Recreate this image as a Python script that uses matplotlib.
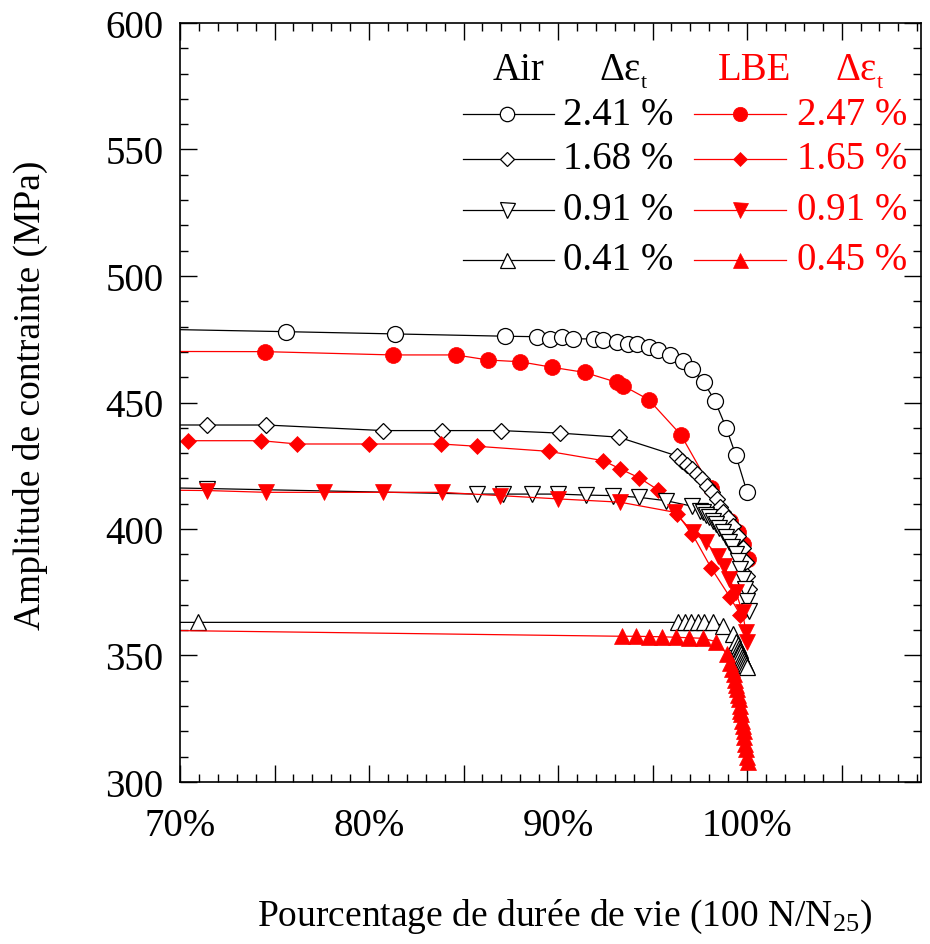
import matplotlib
matplotlib.use('Agg')
import matplotlib.pyplot as plt
from matplotlib.ticker import MultipleLocator, FuncFormatter

# Air 2.41 %
air241_x = [60, 75.6, 81.4, 87.2, 88.9, 89.6, 90.2, 90.8, 91.9, 92.4, 93.1, 93.7, 94.2, 94.8,
            95.3, 95.9, 96.6, 97.1, 97.7, 98.3, 98.9, 99.4, 100.0]
air241_y = [480.2, 478.0, 477.1, 476.2, 476.0, 475.0, 476.0, 475.2, 475.1, 474.7, 473.9, 473.1, 473.1, 471.9,
            470.8, 468.8, 466.4, 463.2, 458.1, 450.6, 439.9, 429.2, 414.6]
# LBE 2.47 %
lbe247_x = [60, 74.5, 81.25, 84.6, 86.3, 88.0, 89.7, 91.4, 93.1, 93.45, 94.8, 96.5, 98.1,
            99.1, 99.5, 99.8, 100.05]
lbe247_y = [470.3, 470.1, 468.8, 468.8, 466.8, 466.1, 463.9, 461.9, 458.0, 456.6, 451.1, 437.2, 416.1,
            403.3, 398.7, 394.1, 388.1]
# Air 1.68 %
air168_x = [60, 71.45, 74.55, 80.76, 83.84, 86.97, 90.1, 93.2, 96.28, 96.56, 96.83, 97.09, 97.35,
            97.62, 97.88, 98.15, 98.40, 98.57, 98.75, 99.01, 99.28, 99.54, 99.80, 99.95, 100.02, 100.1]
air168_y = [441.2, 441.1, 441.1, 438.9, 438.9, 438.9, 437.9, 436.3, 428.9, 426.9, 425.3, 423.7, 421.7,
            419.8, 417.0, 414.6, 411.9, 408.7, 406.7, 404.3, 401.2, 397.2, 392.5, 387.0, 381.4, 376.3]
# LBE 1.65 %
lbe165_x = [70.4, 74.3, 76.2, 80.0, 83.8, 85.7, 89.5, 92.4, 93.3, 94.3, 95.3, 96.3, 97.1, 98.1,
            99.1, 99.65]
lbe165_y = [434.9, 434.9, 433.6, 433.6, 433.6, 432.7, 430.7, 427.0, 423.7, 420.2, 415.4, 405.9, 398.0, 384.6,
            373.0, 366.0]
# Air 0.91 %
air091_x = [60, 71.45, 85.7, 87.1, 88.6, 90.0, 91.5, 92.9, 94.3, 95.7, 97.1, 97.5, 97.65, 97.8, 98.0,
            98.2, 98.35, 98.5, 98.7, 98.9, 99.05, 99.2, 99.4, 99.5, 99.65, 99.8, 99.9, 100.0, 100.1]
air091_y = [417.5, 416.0, 413.8, 413.8, 413.8, 413.8, 413.4, 413.2, 412.5, 411.2, 409.0, 407.2, 406.6, 405.5, 404.6,
            403.3, 402.0, 400.3, 398.7, 396.7, 394.7, 392.8, 390.1, 387.5, 384.2, 380.2, 376.3, 371.7, 367.7]
# LBE 0.91 %
lbe091_x = [60, 71.45, 74.55, 77.63, 80.76, 83.84, 86.93, 90.0, 93.28, 96.19, 97.13, 97.83, 98.45,
            98.8, 99.06, 99.41, 99.76, 99.94, 100.0]
lbe091_y = [416.0, 415.2, 414.5, 414.5, 414.5, 414.5, 413.2, 411.9, 410.6, 406.6, 398.7, 394.7, 389.4,
            385.5, 380.2, 375.0, 367.1, 359.2, 355.2]
# Air 0.41 %
air041_x = [60, 70.93, 96.33, 96.69, 97.04, 97.39, 97.74, 98.18, 98.71, 99.24, 99.41, 99.5, 99.55, 99.6,
            99.65, 99.7, 99.75, 99.8, 99.85, 99.9, 99.95, 100.0]
air041_y = [363.1, 363.1, 363.1, 363.1, 363.1, 363.1, 363.1, 363.1, 361.8, 358.5, 355.2, 354.0, 353.0, 352.0,
            351.3, 350.5, 349.5, 348.6, 347.8, 347.0, 346.3, 345.3]
# LBE 0.45 %
lbe045_x = [60, 93.4, 94.1, 94.8, 95.5, 96.25, 96.95, 97.65, 98.35, 98.95, 99.1, 99.2, 99.3, 99.35,
            99.4, 99.45, 99.5, 99.55, 99.6, 99.65, 99.7, 99.75, 99.78, 99.82, 99.85, 99.9, 99.94, 99.98, 100.03]
lbe045_y = [360.8, 357.6, 357.6, 357.5, 357.4, 357.2, 357.0, 356.8, 355.5, 350.5, 347.0, 344.5, 342.7, 340.5,
            338.5, 336.8, 334.5, 332.8, 330.2, 328.0, 326.9, 324.0, 322.3, 320.0, 317.7, 315.0, 313.1, 310.0, 307.8]

air_labels = ['2.41 %', '1.68 %', '0.91 %', '0.41 %']
lbe_labels = ['2.47 %', '1.65 %', '0.91 %', '0.45 %']

plt.rcParams['font.family'] = ['Liberation Serif', 'DejaVu Serif']
plt.rcParams['mathtext.fontset'] = 'custom'
plt.rcParams['mathtext.rm'] = 'Liberation Serif'
plt.rcParams['mathtext.it'] = 'Liberation Serif:italic'

fig = plt.figure(figsize=(9.3, 9.45), dpi=100)
ax = fig.add_axes([180 / 930, 1 - 783 / 945, 741 / 930, 759 / 945])

RED = '#ff0000'
open_kw = dict(color='black', lw=0.9, mfc='white', mec='black', mew=0.9)
fill_kw = dict(color=RED, lw=0.9, mfc=RED, mec=RED, mew=0.5)

series = [
    (air241_x, air241_y, 'o', 11.5, open_kw),
    (lbe247_x, lbe247_y, 'o', 11.5, fill_kw),
    (air168_x, air168_y, 'D', 8.2, open_kw),
    (lbe165_x, lbe165_y, 'D', 8.2, fill_kw),
    (air091_x, air091_y, 'v', 12, open_kw),
    (lbe091_x, lbe091_y, 'v', 11, fill_kw),
    (air041_x, air041_y, '^', 12, open_kw),
    (lbe045_x, lbe045_y, '^', 11, fill_kw),
]
for xs, ys, m, ms, kw in series:
    ax.plot(xs, ys, marker=m, ms=ms, **kw)

ax.set_xlim(70, 109.2)
ax.set_ylim(300, 600)
ax.xaxis.set_major_locator(MultipleLocator(5))
ax.xaxis.set_minor_locator(MultipleLocator(1))
ax.yaxis.set_major_locator(MultipleLocator(50))
ax.yaxis.set_minor_locator(MultipleLocator(10))
ax.xaxis.set_major_formatter(FuncFormatter(lambda v, p: '%d%%' % v if round(v) % 10 == 0 else ''))
ax.tick_params(which='both', direction='in', top=True, right=True, labelsize=28, width=1)
ax.tick_params(which='major', length=12)
ax.tick_params(which='minor', length=6)
ax.tick_params(axis='y', pad=12)
ax.tick_params(axis='x', pad=18)
for s in ax.spines.values():
    s.set_linewidth(1.2)

# hand-made legend
rows = [0.880, 0.821, 0.754, 0.688]
markers = [('o', 11.5), ('D', 8.2), ('v', 12), ('^', 12)]
T = ax.transAxes
ax.text(0.457, 0.939, 'Air', transform=T, fontsize=28, ha='center', va='center')
ax.text(0.594, 0.939, 'Δε', transform=T, fontsize=28, ha='center', va='center')
ax.text(0.626, 0.922, 't', transform=T, fontsize=16, ha='center', va='center')
ax.text(0.776, 0.939, 'LBE', transform=T, fontsize=28, ha='center', va='center', color=RED)
ax.text(0.912, 0.939, 'Δε', transform=T, fontsize=28, ha='center', va='center', color=RED)
ax.text(0.944, 0.922, 't', transform=T, fontsize=16, ha='center', va='center', color=RED)
for fy, (m, ms), la, lb in zip(rows, markers, air_labels, lbe_labels):
    ax.plot([0.382, 0.505], [fy, fy], transform=T, color='black', lw=0.9, clip_on=False)
    ax.plot([0.441], [fy], transform=T, marker=m, ms=ms * 0.9, mfc='white', mec='black', mew=0.9,
            clip_on=False)
    ax.text(0.517, fy, la, transform=T, fontsize=28, ha='left', va='center')
    ax.plot([0.694, 0.818], [fy, fy], transform=T, color=RED, lw=0.9, clip_on=False)
    ax.plot([0.756], [fy], transform=T, marker=m, ms=ms * 0.9, mfc=RED, mec=RED, mew=0.5, clip_on=False)
    ax.text(0.833, fy, lb, transform=T, fontsize=28, ha='left', va='center', color=RED)

fig.text(565 / 930, 1 - 926 / 945, r'Pourcentage de durée de vie (100 N/N$_{25}$)', fontsize=27,
         ha='center', va='baseline')
fig.text(30 / 930, 1 - 395 / 945, 'Amplitude de contrainte (MPa)', fontsize=27, rotation=90,
         ha='center', va='center')

fig.savefig('out.png', dpi=100)
